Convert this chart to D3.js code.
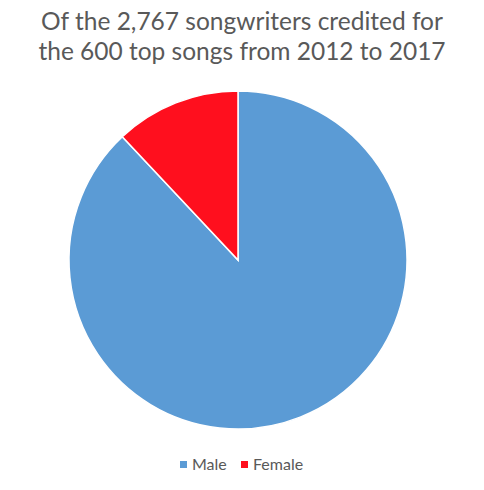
<!DOCTYPE html>
<html><head><meta charset="utf-8">
<script src="https://cdn.jsdelivr.net/npm/d3@7"></script>
<style>body{margin:0;background:#fff}</style>
</head><body>
<svg id="c" width="484" height="490"></svg>
<script>
const categories = ["Male", "Female"];
const values = [88.0, 12.0];
const colors = ["#5B9BD5", "#FF0F1E"];
const titleLines = ["Of the 2,767 songwriters credited for", "the 600 top songs from 2012 to 2017"];

const svg = d3.select("#c");
const font = "Lato, 'Open Sans', sans-serif";

svg.selectAll("text.title").data(titleLines).enter().append("text")
  .attr("class","title")
  .attr("x", 242).attr("y", (d,i)=>30 + i*30)
  .attr("text-anchor","middle")
  .attr("font-family", font).attr("font-size", 24.5)
  .attr("fill","#595959").text(d=>d);

const cx = 238, cy = 260, r = 169;
const pie = d3.pie().sort(null).value(d=>d)(values);
const arc = d3.arc().innerRadius(0).outerRadius(r);
const g = svg.append("g").attr("transform",`translate(${cx},${cy})`);
g.selectAll("path").data(pie).enter().append("path")
  .attr("d", arc).attr("fill",(d,i)=>colors[i])
  .attr("stroke","#fff").attr("stroke-width",1.5);

const leg = svg.append("g");
const legX = [180, 241];
categories.forEach((c,i)=>{
  leg.append("rect").attr("x", legX[i]).attr("y", 461).attr("width",7).attr("height",7).attr("fill",colors[i]);
  leg.append("text").attr("x", legX[i]+12).attr("y", 469.5)
    .attr("font-family", font).attr("font-size", 16).attr("fill","#595959").text(c);
});
</script>
</body></html>
